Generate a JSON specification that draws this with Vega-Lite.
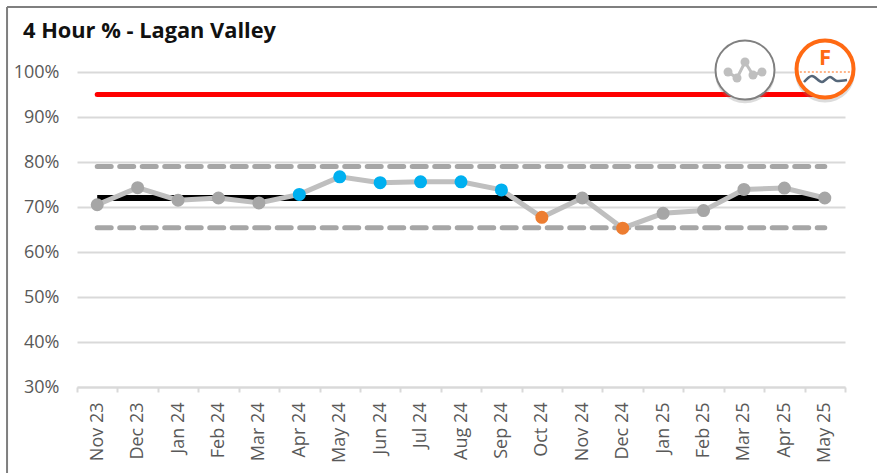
{
"$schema":"https://vega.github.io/schema/vega-lite/v6.json",
"width":768,"height":315,
"autosize":{"type":"none"},
"padding":{"left":77,"top":72,"right":32,"bottom":86},
"background":"white",
"view":{"stroke":null},
"title":{"text":"4 Hour % - Lagan Valley","anchor":"start","frame":"group","dx":-54,"offset":-37,"font":"Open Sans","fontSize":21.8,"fontWeight":"bold","color":"#111111"},
"config":{"font":"Open Sans"},
"datasets":{
"months":[
{"month":"Nov 23","pct":70.5,"signal":"none","target":95,"mean":72,"upper":79,"lower":65.4},
{"month":"Dec 23","pct":74.3,"signal":"none","target":95,"mean":72,"upper":79,"lower":65.4},
{"month":"Jan 24","pct":71.5,"signal":"none","target":95,"mean":72,"upper":79,"lower":65.4},
{"month":"Feb 24","pct":72,"signal":"none","target":95,"mean":72,"upper":79,"lower":65.4},
{"month":"Mar 24","pct":70.9,"signal":"none","target":95,"mean":72,"upper":79,"lower":65.4},
{"month":"Apr 24","pct":72.8,"signal":"high","target":95,"mean":72,"upper":79,"lower":65.4},
{"month":"May 24","pct":76.7,"signal":"high","target":95,"mean":72,"upper":79,"lower":65.4},
{"month":"Jun 24","pct":75.4,"signal":"high","target":95,"mean":72,"upper":79,"lower":65.4},
{"month":"Jul 24","pct":75.6,"signal":"high","target":95,"mean":72,"upper":79,"lower":65.4},
{"month":"Aug 24","pct":75.6,"signal":"high","target":95,"mean":72,"upper":79,"lower":65.4},
{"month":"Sep 24","pct":73.8,"signal":"high","target":95,"mean":72,"upper":79,"lower":65.4},
{"month":"Oct 24","pct":67.7,"signal":"low","target":95,"mean":72,"upper":79,"lower":65.4},
{"month":"Nov 24","pct":72,"signal":"none","target":95,"mean":72,"upper":79,"lower":65.4},
{"month":"Dec 24","pct":65.3,"signal":"low","target":95,"mean":72,"upper":79,"lower":65.4},
{"month":"Jan 25","pct":68.6,"signal":"none","target":95,"mean":72,"upper":79,"lower":65.4},
{"month":"Feb 25","pct":69.2,"signal":"none","target":95,"mean":72,"upper":79,"lower":65.4},
{"month":"Mar 25","pct":73.9,"signal":"none","target":95,"mean":72,"upper":79,"lower":65.4},
{"month":"Apr 25","pct":74.2,"signal":"none","target":95,"mean":72,"upper":79,"lower":65.4},
{"month":"May 25","pct":72,"signal":"none","target":95,"mean":72,"upper":79,"lower":65.4}
]},
"resolve":{"scale":{"x":"independent"}},
"layer":[
{"data":{"name":"months"},
 "encoding":{
  "x":{"field":"month","type":"ordinal","sort":null,"title":null,"scale":{"type":"band","paddingInner":0,"paddingOuter":0},
   "axis":{"labelAngle":-90,"labelAlign":"right","labelBaseline":"middle","labelFontSize":18,"labelColor":"#595959","labelPadding":10,"domainColor":"#D9D9D9","domainWidth":2,"tickColor":"#D9D9D9","tickWidth":2,"tickSize":5,"tickBand":"extent","labelOverlap":false,"grid":false}}
 },
 "layer":[
  {"mark":{"type":"line","color":"#FF0000","strokeWidth":5,"strokeCap":"round"},
   "encoding":{"y":{"field":"target","type":"quantitative","title":null,"scale":{"domain":[30,100],"nice":false,"zero":false},
    "axis":{"values":[30,40,50,60,70,80,90,100],"labelExpr":"datum.value + '%'","labelFontSize":18,"labelColor":"#595959","labelPadding":18,"domain":false,"ticks":false,"grid":true,"gridColor":"#D9D9D9","gridWidth":2}}}},
  {"mark":{"type":"line","color":"#A6A6A6","strokeWidth":5,"strokeDash":[14,8.5],"strokeCap":"round"},"encoding":{"y":{"field":"upper","type":"quantitative"}}},
  {"mark":{"type":"line","color":"#A6A6A6","strokeWidth":5,"strokeDash":[14,8.5],"strokeCap":"round"},"encoding":{"y":{"field":"lower","type":"quantitative"}}},
  {"mark":{"type":"line","color":"#000000","strokeWidth":6},"encoding":{"y":{"field":"mean","type":"quantitative"}}},
  {"mark":{"type":"line","color":"#BFBFBF","strokeWidth":5},"encoding":{"y":{"field":"pct","type":"quantitative"}}},
  {"mark":{"type":"point","filled":true,"opacity":1,"size":170},
   "encoding":{"y":{"field":"pct","type":"quantitative"},
    "color":{"field":"signal","type":"nominal","legend":null,"scale":{"domain":["none","high","low"],"range":["#A6A6A6","#00B0F0","#ED7D31"]}}}}
 ]},
{"encoding":{"x":{"field":"x","type":"quantitative","axis":null,"scale":{"domain":[0,100],"nice":false,"zero":false}}},
 "layer":[
  {"data":{"values":[{"x":-9.11,"y":10.9,"y2":114.44}]},"mark":{"type":"rule","color":"#7F7F7F","strokeWidth":2},
   "encoding":{"y":{"field":"y","type":"quantitative"},"y2":{"field":"y2"}}},
  {"data":{"values":[{"x":-9.11,"x2":104.2,"y":114.44}]},"mark":{"type":"rule","color":"#7F7F7F","strokeWidth":2},
   "encoding":{"x2":{"field":"x2"},"y":{"field":"y","type":"quantitative"}}},
  {"data":{"values":[{"x":86.98,"y":99.7},{"x":97.4,"y":99.9}]},"mark":{"type":"point","filled":true,"color":"#808080","opacity":0.28,"size":3600},
   "encoding":{"y":{"field":"y","type":"quantitative"}}},
  {"data":{"values":[{"x":86.98,"y":100.44}]},"mark":{"type":"point","filled":true,"fill":"#FFFFFF","stroke":"#808080","strokeWidth":2,"opacity":1,"size":3481},
   "encoding":{"y":{"field":"y","type":"quantitative"}}},
  {"data":{"values":[{"x":97.4,"y":100.67}]},"mark":{"type":"point","filled":true,"fill":"#FFFFFF","stroke":"#FF6A13","strokeWidth":4,"opacity":1,"size":3249},
   "encoding":{"y":{"field":"y","type":"quantitative"}}},
  {"data":{"values":[{"x":84.77,"y":100},{"x":85.94,"y":98.67},{"x":86.98,"y":102.22},{"x":88.02,"y":99.33},{"x":89.19,"y":100}]},"mark":{"type":"line","color":"#BFBFBF","strokeWidth":3,"point":{"filled":true,"color":"#BFBFBF","size":81,"opacity":1}},
   "encoding":{"y":{"field":"y","type":"quantitative"}}},
  {"data":{"values":[{"x":93.6,"y":100},{"x":101.3,"y":100}]},"mark":{"type":"line","color":"#FF6A13","strokeWidth":1,"strokeDash":[2,2]},
   "encoding":{"y":{"field":"y","type":"quantitative"}}},
  {"data":{"values":[{"x":94.66,"y":97.78},{"x":95.7,"y":99.11},{"x":97.0,"y":97.78},{"x":98.05,"y":98.89},{"x":98.96,"y":98},{"x":100.26,"y":98.22}]},"mark":{"type":"line","color":"#56677A","strokeWidth":2.5,"interpolate":"monotone"},
   "encoding":{"y":{"field":"y","type":"quantitative"}}},
  {"data":{"values":[{"x":97.4,"y":103.1,"label":"F"}]},"mark":{"type":"text","color":"#FF6A13","fontSize":22,"fontWeight":"bold","baseline":"middle","align":"center"},
   "encoding":{"y":{"field":"y","type":"quantitative"},"text":{"field":"label"}}}
 ]}
]
}
